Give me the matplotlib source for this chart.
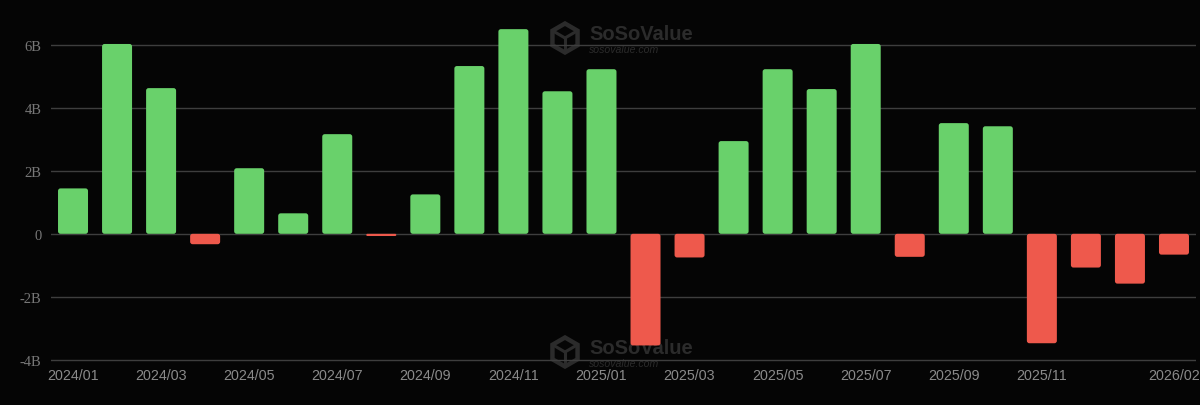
import matplotlib
matplotlib.use("Agg")
import matplotlib.pyplot as plt
from matplotlib.patches import FancyBboxPatch, RegularPolygon
from matplotlib.lines import Line2D

months = ["2024/01","2024/02","2024/03","2024/04","2024/05","2024/06","2024/07","2024/08","2024/09","2024/10","2024/11","2024/12",
          "2025/01","2025/02","2025/03","2025/04","2025/05","2025/06","2025/07","2025/08","2025/09","2025/10","2025/11","2025/12",
          "2026/01","2026/02"]
flows = [1.44,6.02,4.62,-0.33,2.08,0.65,3.16,-0.07,1.25,5.32,6.49,4.52,
         5.22,-3.54,-0.75,2.94,5.22,4.59,6.02,-0.73,3.51,3.41,-3.47,-1.07,-1.58,-0.66]
shown_months = ["2024/01","2024/03","2024/05","2024/07","2024/09","2024/11","2025/01","2025/03","2025/05","2025/07","2025/09","2025/11","2026/02"]
y_ticks = [-4,-2,0,2,4,6]
y_labels = ["-4B","-2B","0","2B","4B","6B"]

W, H = 1200, 406
BG = "#050505"; GREEN = "#69d16b"; RED = "#ee594c"; GRID = "#3e3e3e"; MARK = "#2b2b2b"
fig = plt.figure(figsize=(W/100, H/100), dpi=100, facecolor=BG)
L, R, T, B = 51, 1196, 21, 363
YTOP, YBOT = 6.78, -4.065
ax = fig.add_axes([L/W, 1-B/H, (R-L)/W, (B-T)/H], facecolor="none")
ax.set_zorder(1)
ax.set_xlim(-0.5, len(months)-0.5)
ax.set_ylim(YBOT, YTOP)
ax.set_axisbelow(True)
for s in ax.spines.values():
    s.set_visible(False)
ax.set_yticks(y_ticks, y_labels, family="Liberation Serif", fontsize=10.5, color="#777777")
ax.set_xticks([months.index(m) for m in shown_months], shown_months,
              family="Liberation Sans", fontsize=10.3, color="#8a8a8a")
ax.tick_params(length=0)
ax.tick_params(axis="y", pad=7)
ax.tick_params(axis="x", pad=4)
ax.grid(axis="y", color=GRID, lw=1.0)

px_x = (R-L)/len(months)
px_y = (B-T)/(YTOP-YBOT)
rad = 2.5/px_x
bw = 30/px_x
for i, v in enumerate(flows):
    lo, hi = min(0, v), max(0, v)
    ax.add_patch(FancyBboxPatch((i-bw/2, lo), bw, hi-lo,
                 boxstyle=f"round,pad=0,rounding_size={min(rad, (hi-lo)*px_y/px_x/2)}",
                 mutation_aspect=px_x/px_y, fc=GREEN if v >= 0 else RED, ec="none", zorder=3))

def fx(p): return p/W
def fy(p): return 1-p/H
for y0 in (35, 349):
    cy = y0+4
    fig.patches.append(RegularPolygon((565, H-cy), 6, radius=14.5, transform=None,
                       fc="none", ec=MARK, lw=3.2, zorder=0))
    for dx, dy in ((-12, -7), (12, -7), (0, 13)):
        fig.add_artist(Line2D([565, 565+dx], [H-cy, H-cy-dy], transform=None, color=MARK, lw=2.2, zorder=0))
    fig.text(fx(589), fy(y0), "SoSoValue", family="Liberation Sans", weight="bold", fontsize=14.5,
             color=MARK, va="center", ha="left", zorder=0)
    fig.text(fx(589), fy(y0+15), "sosovalue.com", family="Liberation Sans", style="italic", fontsize=7.6,
             color=MARK, va="center", ha="left", zorder=0)
fig.savefig("out.png", dpi=100, facecolor=BG)
